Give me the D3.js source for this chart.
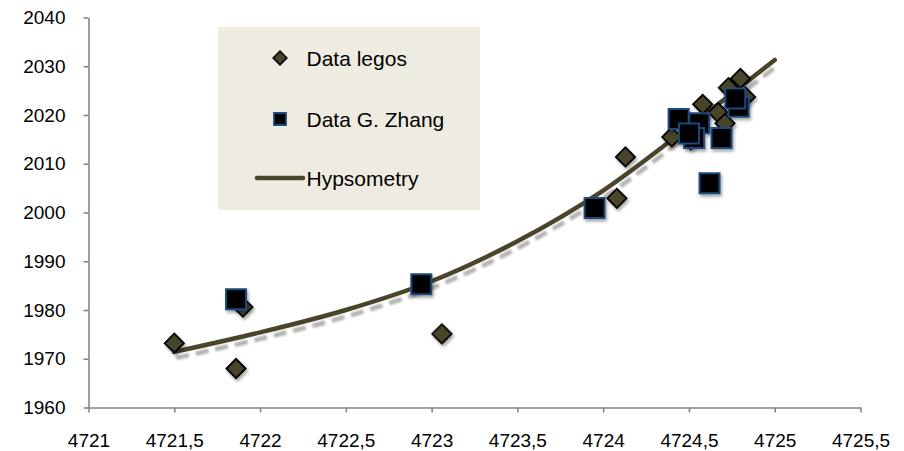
<!DOCTYPE html>
<html>
<head>
<meta charset="utf-8">
<script src="https://cdn.jsdelivr.net/npm/d3@7"></script>
<style>
  html, body { margin: 0; padding: 0; background: #fff; }
  svg { display: block; }
  text { font-family: "Liberation Sans", Arial, sans-serif; fill: #000; }
</style>
</head>
<body>
<svg id="chart" width="904" height="451"></svg>
<script>
// Survey points: "Data legos" (diamonds)
const legosX = [4721.50, 4721.86, 4721.90, 4723.06, 4724.08, 4724.13, 4724.40, 4724.51,
                4724.58, 4724.67, 4724.71, 4724.73, 4724.80, 4724.83];
const legosY = [1973.2, 1968.0, 1980.6, 1975.1, 2002.9, 2011.4, 2015.5, 2014.9,
                2022.2, 2020.5, 2018.3, 2025.6, 2027.5, 2023.7];

// Survey points: "Data G. Zhang" (squares)
const zhangX = [4721.86, 4722.94, 4723.95, 4724.62, 4724.44, 4724.56, 4724.53, 4724.50,
                4724.69, 4724.79, 4724.77];
const zhangY = [1982.2, 1985.3, 2000.9, 2006.0, 2019.2, 2018.3, 2015.3, 2016.2,
                2015.3, 2021.7, 2023.4];

// Hypsometry curve samples
const hypsoX = [4721.5, 4722.0, 4722.5, 4723.0, 4723.5, 4724.0, 4724.5, 4725.0];
const hypsoY = [1971.4, 1975.4, 1980.0, 1985.9, 1994.1, 2004.5, 2017.6, 2031.3];

// Axis ticks
const xTickValues = [4721, 4721.5, 4722, 4722.5, 4723, 4723.5, 4724, 4724.5, 4725, 4725.5];
const yTickValues = [1960, 1970, 1980, 1990, 2000, 2010, 2020, 2030, 2040];

const seriesNames = ["Data legos", "Data G. Zhang", "Hypsometry"];

const olive = "#4A452A";
const axisGrey = "#868686";
const squareBorder = "#1F497D";

const svg = d3.select("#chart");

const x = d3.scaleLinear().domain([4721, 4725.5]).range([88.5, 860.5]);
const y = d3.scaleLinear().domain([1960, 2040]).range([407.5, 17.5]);

const locale = d3.formatLocale({ decimal: ",", thousands: "", grouping: [3], currency: ["", ""] });
const xFmt = locale.format("~g");

// Filters: soft drop shadow for markers, blur for the line shadow
const defs = svg.append("defs");
const ms = defs.append("filter").attr("id", "markerShadow")
  .attr("x", "-50%").attr("y", "-50%").attr("width", "200%").attr("height", "200%");
ms.append("feDropShadow").attr("dx", 1.5).attr("dy", 2.5).attr("stdDeviation", 1.4)
  .attr("flood-color", "#000").attr("flood-opacity", 0.35);
const lb = defs.append("filter").attr("id", "lineBlur")
  .attr("x", "-10%").attr("y", "-10%").attr("width", "120%").attr("height", "120%");
lb.append("feGaussianBlur").attr("stdDeviation", 1.1);

// Legend panel
const legend = svg.append("g");
legend.append("rect")
  .attr("x", 218).attr("y", 27).attr("width", 262).attr("height", 183)
  .attr("fill", "#EEECE1");

// Axes
const yAxis = d3.axisLeft(y).tickValues(yTickValues).tickSize(5).tickSizeOuter(0)
  .tickPadding(18).tickFormat(d3.format("d"));
const gy = svg.append("g").attr("transform", `translate(${x(4721)},0)`).call(yAxis);

const xAxis = d3.axisBottom(x).tickValues(xTickValues).tickSize(5).tickSizeOuter(0)
  .tickFormat(xFmt);
const gx = svg.append("g").attr("transform", `translate(0,${y(1960)})`).call(xAxis);

[gx, gy].forEach(g => {
  g.select(".domain").attr("stroke", axisGrey).attr("stroke-width", 1.6);
  g.selectAll(".tick line").attr("stroke", axisGrey).attr("stroke-width", 1.6);
  g.selectAll(".tick text").attr("font-size", 19).attr("fill", "#000")
    .attr("font-family", "'Liberation Sans', Arial, sans-serif");
});
gx.selectAll(".tick text").attr("y", 33).attr("dy", "0.35em");

// Hypsometry curve with its dashed soft shadow
const hypso = hypsoX.map((v, i) => [v, hypsoY[i]]);
const line = d3.line().x(d => x(d[0])).y(d => y(d[1])).curve(d3.curveCatmullRom.alpha(0.5));

svg.append("path")
  .attr("d", line(hypso))
  .attr("transform", "translate(2,6)")
  .attr("fill", "none")
  .attr("stroke", "#8f8f8f")
  .attr("stroke-width", 4.5)
  .attr("stroke-dasharray", "13 7")
  .attr("opacity", 0.7)
  .attr("filter", "url(#lineBlur)");

svg.append("path")
  .attr("d", line(hypso))
  .attr("fill", "none")
  .attr("stroke", olive)
  .attr("stroke-width", 4.5)
  .attr("stroke-linecap", "round");

// Diamonds
const diamond = d3.symbol(d3.symbolSquare, 185);
svg.append("g").attr("filter", "url(#markerShadow)")
  .selectAll("path")
  .data(legosX.map((v, i) => [v, legosY[i]]))
  .join("path")
  .attr("d", diamond)
  .attr("transform", d => `translate(${x(d[0])},${y(d[1])}) rotate(45)`)
  .attr("fill", olive)
  .attr("stroke", "#000")
  .attr("stroke-width", 1.8);

// Squares
const square = d3.symbol(d3.symbolSquare, 400);
svg.append("g").attr("filter", "url(#markerShadow)")
  .selectAll("path")
  .data(zhangX.map((v, i) => [v, zhangY[i]]))
  .join("path")
  .attr("d", square)
  .attr("transform", d => `translate(${x(d[0])},${y(d[1])})`)
  .attr("fill", "#000")
  .attr("stroke", squareBorder)
  .attr("stroke-width", 2);

// Legend entries
const legendRows = [58, 119, 178];
legend.append("path")
  .attr("d", d3.symbol(d3.symbolSquare, 95)())
  .attr("transform", `translate(280,${legendRows[0]}) rotate(45)`)
  .attr("fill", olive).attr("stroke", "#000").attr("stroke-width", 1.5);
legend.append("path")
  .attr("d", d3.symbol(d3.symbolSquare, 144)())
  .attr("transform", `translate(280,${legendRows[1]})`)
  .attr("fill", "#000").attr("stroke", squareBorder).attr("stroke-width", 1.8);
legend.append("line")
  .attr("x1", 257).attr("x2", 303).attr("y1", legendRows[2]).attr("y2", legendRows[2])
  .attr("stroke", olive).attr("stroke-width", 4.5).attr("stroke-linecap", "round");

legend.selectAll("text.lbl")
  .data(seriesNames)
  .join("text")
  .attr("class", "lbl")
  .attr("x", 306.5)
  .attr("y", (d, i) => legendRows[i])
  .attr("dy", "0.36em")
  .attr("font-size", 21)
  .text(d => d);
</script>
</body>
</html>
